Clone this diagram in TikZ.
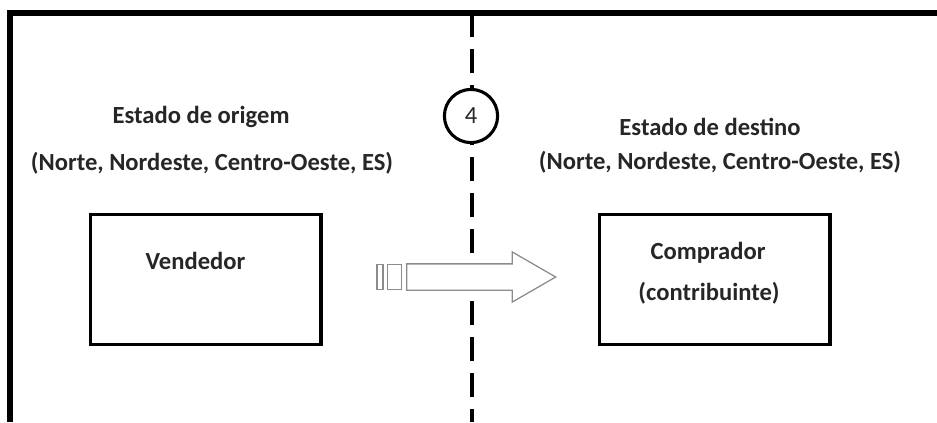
\documentclass[tikz,border=0pt]{standalone}
\usepackage{fontspec}
\setmainfont{Carlito}
\usetikzlibrary{positioning,calc,shapes.arrows}

\begin{document}
\begin{tikzpicture}[x=0.025cm, y=-0.025cm,
    font=\fontsize{17.5}{20}\selectfont\bfseries, text=black!85,
    box/.style={draw, line width=2.8pt, minimum width=5.75cm,
      minimum height=3.25cm, inner sep=0pt},
    stripe/.style={draw=black!45, fill=white, line width=0.9pt,
      minimum height=0.625cm, inner sep=0pt},
    frontier/.style={line width=2.6pt, dash pattern=on 0.6cm off 0.3cm}]
    \useasboundingbox (0,0) rectangle (937,422);
    % moldura e fronteira entre os estados
    \draw[line width=3.6pt] (10,422) |- (937,13);
    \draw[frontier] (472,13) -- (472,422);
    \node[draw, circle, line width=2.2pt, fill=white, minimum size=1.33cm,
      inner sep=0pt, font=\fontsize{17.5}{20}\selectfont] (quatro) at (471,116) {4};%
    % estados
    \node (origem) at (201,117) {Estado de origem};%
    \node (origemuf) at (212,163) {(Norte, Nordeste, Centro-Oeste, ES)};%
    \node (destino) at (710,127) {Estado de destino};%
    \node (destinouf) at (720,162) {(Norte, Nordeste, Centro-Oeste, ES)};%
    % vendedor e comprador
    \node[box] (vendedor) at (205.5,279.5) {};%
    \node (vendtxt) at ($(vendedor)+(-10,-19)$) {Vendedor};%
    \node[box] (comprador) at (714.5,279.5) {};%
    \node (comptxt) at ($(comprador)+(-6.5,-26.5)$) {Comprador};%
    \node (contrib) at ($(comprador)+(-5.5,13.5)$) {(contribuinte)};%
    % seta da operacao
    \node[single arrow, draw=black!45, fill=white, line width=0.9pt,
      single arrow head extend=0.3cm, single arrow tip angle=60,
      minimum height=3.725cm, inner xsep=0pt, inner ysep=0.3125cm,
      anchor=tail] (fluxo) at (406,277) {};%
    \node[stripe, minimum width=0.35cm] (barra2) [left=0.1cm of fluxo.tail] {};%
    \node[stripe, minimum width=0.15cm] (barra1) [left=0.075cm of barra2] {};%
\end{tikzpicture}
\end{document}
